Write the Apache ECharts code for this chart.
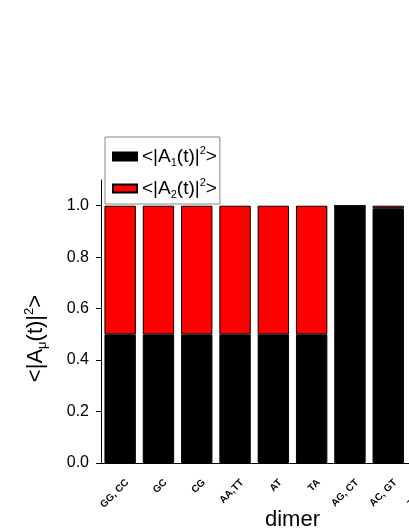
<!DOCTYPE html>
<html>
<head>
<meta charset="utf-8">
<script src="https://cdn.jsdelivr.net/npm/echarts@6/dist/echarts.min.js"></script>
<style>
  html, body { margin: 0; padding: 0; background: #fff; }
  #chart { width: 409px; height: 529px; }
</style>
</head>
<body>
<div id="chart"></div>
<script>
// dimer categories (last two are off the right edge in the original)
const dimers = ['GG, CC', 'GC', 'CG', 'AA,TT', 'AT', 'TA', 'AG, CT', 'AC, GT', 'TG, CA', 'TC, GA'];
// stacked populations
const a1 = [0.5, 0.5, 0.5, 0.5, 0.5, 0.5, 1.0, 0.99, 1.0, 1.0];
const a2 = [0.5, 0.5, 0.5, 0.5, 0.5, 0.5, 0.0, 0.01, 0.0, 0.0];
const yTicks = [0, 0.2, 0.4, 0.6, 0.8, 1.0];

const font = 'Liberation Sans, Arial, sans-serif';

const chart = echarts.init(document.getElementById('chart'));

const richText = (size) => ({
  t: { fontSize: size, fontFamily: font, color: '#000', lineHeight: size + 4 },
  sub: { fontSize: Math.round(size * 0.6), fontFamily: font, color: '#000', lineHeight: 8, verticalAlign: 'bottom' },
  sup: { fontSize: Math.round(size * 0.6), fontFamily: font, color: '#000', lineHeight: 10, verticalAlign: 'top' }
});

const option = {
  animation: false,
  backgroundColor: '#fff',
  legend: {
    orient: 'vertical',
    left: 105,
    top: 137,
    padding: [8, 3, 4, 7],
    itemGap: 9,
    itemWidth: 24,
    itemHeight: 8,
    backgroundColor: '#fff',
    borderColor: '#888',
    borderWidth: 1,
    borderRadius: 0,
    z: 10,
    data: [
      { name: 'A1', icon: 'rect' },
      { name: 'A2', icon: 'rect' }
    ],
    formatter: (name) => '{t|<|A}{sub|' + name.slice(1) + '}{t|(t)|}{sup|2}{t|>}',
    textStyle: { rich: richText(19) }
  },
  grid: {
    left: 101,
    right: -75,
    top: 180,
    bottom: 66,
    outerBoundsMode: 'none',
    containLabel: false
  },
  xAxis: [
    {
      type: 'category',
      data: dimers,
      boundaryGap: true,
      name: 'dimer',
      nameLocation: 'middle',
      nameGap: 46,
      nameMoveOverlap: false,
      nameTextStyle: { fontSize: 22, fontFamily: font, color: '#000' },
      axisLine: { lineStyle: { color: '#000', width: 1 } },
      axisTick: { alignWithLabel: true, length: 5, lineStyle: { color: '#000' } },
      axisLabel: {
        interval: 0,
        rotate: 45,
        margin: 11,
        verticalAlign: 'top',
        lineHeight: 20,
        fontSize: 10,
        fontWeight: 'bold',
        fontFamily: font,
        color: '#000'
      },
      splitLine: { show: false }
    },
    {
      // short ticks at category boundaries
      type: 'category',
      data: dimers,
      position: 'bottom',
      boundaryGap: true,
      axisLine: { show: false },
      axisTick: { alignWithLabel: false, length: 3, lineStyle: { color: '#000' } },
      axisLabel: { show: false },
      splitLine: { show: false }
    }
  ],
  yAxis: {
    type: 'value',
    min: 0,
    max: 1.1,
    interval: 0.2,
    name: '{t|<|A}{sub|μ}{t|(t)|}{sup|2}{t|>}',
    nameLocation: 'middle',
    nameGap: 52,
    nameMoveOverlap: false,
    nameTextStyle: { rich: richText(22), padding: [0, 34, 0, 0] },
    axisLine: { show: true, lineStyle: { color: '#000', width: 1 } },
    axisTick: { show: true, length: 5, customValues: yTicks, lineStyle: { color: '#000' } },
    axisLabel: {
      customValues: yTicks,
      margin: 12,
      fontSize: 16,
      fontFamily: font,
      color: '#000',
      formatter: (v) => v.toFixed(1)
    },
    splitLine: { show: false }
  },
  series: [
    {
      name: 'A1',
      type: 'bar',
      stack: 'pop',
      data: a1,
      barCategoryGap: '18%',
      itemStyle: { color: '#000', borderColor: '#000', borderWidth: 1 }
    },
    {
      name: 'A2',
      type: 'bar',
      stack: 'pop',
      data: a2,
      barCategoryGap: '18%',
      itemStyle: { color: '#ff0000', borderColor: '#000', borderWidth: 1 }
    }
  ]
};

chart.setOption(option);
window.addEventListener('resize', () => chart.resize());
</script>
</body>
</html>
